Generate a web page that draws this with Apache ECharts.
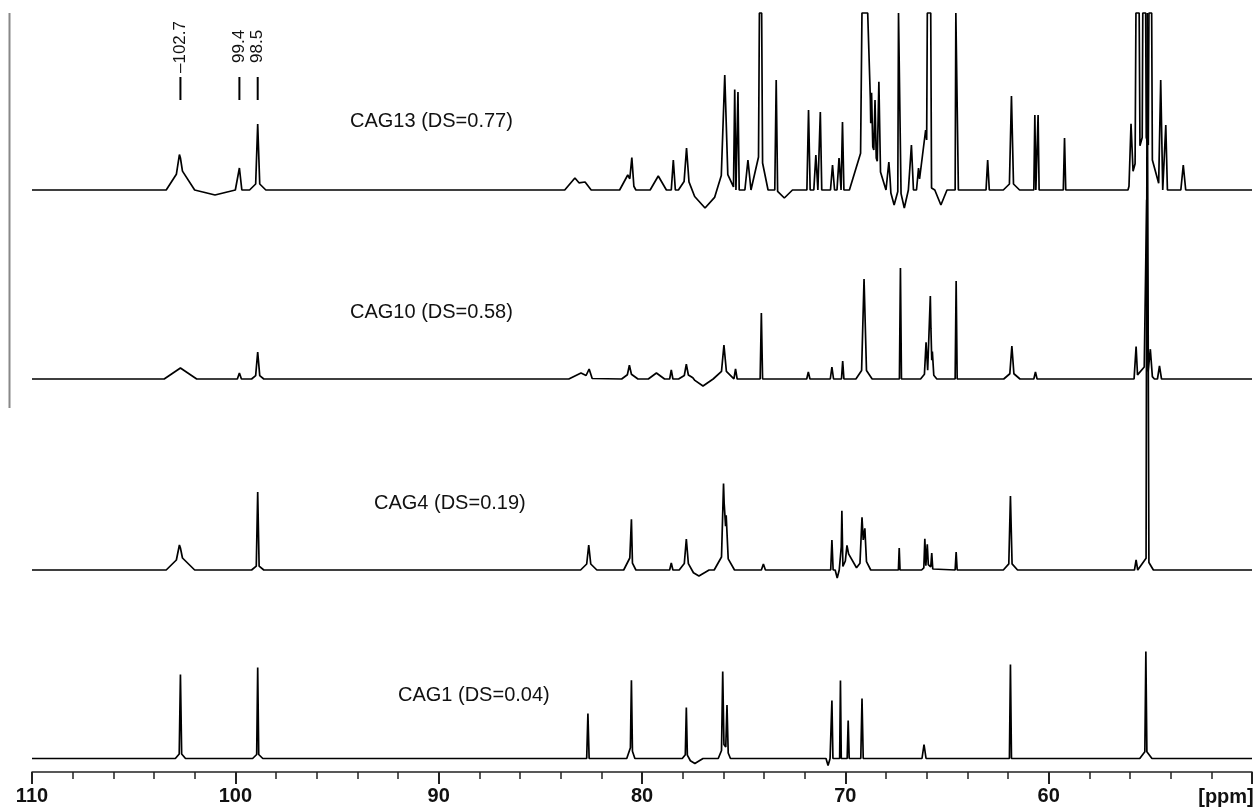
<!DOCTYPE html>
<html>
<head>
<meta charset="utf-8">
<script src="https://cdn.jsdelivr.net/npm/echarts@6/dist/echarts.min.js"></script>
<style>
  html, body { margin: 0; padding: 0; background: #fff; }
  #chart { width: 1255px; height: 807px; }
</style>
</head>
<body>
<div id="chart"></div>
<script>
// ---------- DATA ----------
// each peak: [ppm, height above its own baseline, half-width at base (ppm)]
const traceNames = ['CAG13 (DS=0.77)', 'CAG10 (DS=0.58)', 'CAG4 (DS=0.19)', 'CAG1 (DS=0.04)'];

const peaksCAG13 = [
  [102.7, 22, 0.7], [102.75, 15, 0.15], [101.0, -5, 1.0],
  [99.8, 22, 0.12], [98.9, 58, 0.1], [98.9, 8, 0.4],
  [83.3, 12, 0.5], [82.8, 8, 0.3],
  [80.7, 15, 0.4], [80.5, 25, 0.1],
  [79.2, 14, 0.4], [78.46, 30, 0.1],
  [77.81, 30, 0.12], [77.81, 12, 0.4], [76.9, -18, 0.8],
  [75.93, 93, 0.15], [75.93, 22, 0.5],
  [75.44, 100, 0.06], [75.28, 98, 0.06],
  [74.79, 30, 0.15], [74.17, 320, 0.1], [74.2, 40, 0.4],
  [73.40, 110, 0.07], [73.0, -8, 0.4],
  [71.81, 80, 0.08], [71.45, 35, 0.1], [71.23, 78, 0.07],
  [70.63, 25, 0.1], [70.31, 32, 0.1], [70.14, 68, 0.07],
  [69.0, 500, 0.25], [68.9, 60, 0.9],
  [68.71, 50, 0.06], [68.54, 54, 0.06], [68.35, 85, 0.08],
  [67.86, 28, 0.1], [67.6, -15, 0.2], [67.34, 400, 0.08], [67.1, -18, 0.2],
  [66.75, 45, 0.1], [66.4, 22, 0.1],
  [65.88, 500, 0.12], [66.05, 60, 0.3], [65.3, -15, 0.3],
  [64.52, 400, 0.08], [63.0, 30, 0.08],
  [61.83, 86, 0.1], [61.83, 8, 0.4],
  [60.68, 75, 0.05], [60.52, 75, 0.05], [59.22, 52, 0.06],
  [55.95, 55, 0.1], [55.63, 420, 0.12], [55.3, 420, 0.1], [55.0, 420, 0.1], [55.3, 60, 0.8],
  [54.49, 110, 0.1], [54.24, 65, 0.08], [53.38, 25, 0.12]
];

const peaksCAG10 = [
  [102.7, 11, 0.8], [99.8, 6, 0.1], [98.9, 22, 0.1], [98.9, 5, 0.3],
  [83.0, 6, 0.6], [82.6, 8, 0.15],
  [80.62, 8, 0.1], [80.6, 6, 0.4], [79.29, 6, 0.4], [78.56, 9, 0.08],
  [77.82, 10, 0.1], [77.8, 5, 0.4], [77.0, -7, 0.5],
  [75.97, 24, 0.12], [75.97, 10, 0.5], [75.4, 10, 0.08], [74.13, 66, 0.06],
  [71.82, 7, 0.08], [70.66, 12, 0.08], [70.13, 18, 0.06],
  [69.08, 88, 0.12], [69.08, 12, 0.4], [67.29, 111, 0.05],
  [66.03, 30, 0.08], [65.82, 75, 0.07], [65.72, 22, 0.07], [65.9, 10, 0.4],
  [64.55, 98, 0.05], [61.81, 26, 0.1], [61.81, 7, 0.4], [60.65, 7, 0.08],
  [55.7, 30, 0.07], [55.3, 12, 0.5], [55.18, 170, 0.07], [55.0, 25, 0.1], [54.55, 13, 0.1]
];

const peaksCAG4 = [
  [102.7, 14, 0.7], [102.75, 12, 0.15], [98.9, 73, 0.07], [98.9, 5, 0.3],
  [82.62, 17, 0.1], [82.62, 8, 0.4],
  [80.52, 42, 0.05], [80.6, 12, 0.3], [78.56, 7, 0.08],
  [77.82, 22, 0.1], [77.82, 9, 0.35], [77.2, -6, 0.5],
  [75.99, 70, 0.1], [75.86, 40, 0.1], [75.95, 18, 0.5], [74.03, 6, 0.1],
  [70.66, 30, 0.06], [70.4, -8, 0.1], [70.17, 58, 0.05],
  [69.8, 18, 0.4], [69.92, 12, 0.08],
  [69.18, 42, 0.1], [69.04, 30, 0.08], [69.1, 14, 0.35],
  [67.35, 22, 0.04],
  [66.09, 28, 0.05], [65.97, 20, 0.05], [65.75, 15, 0.05], [65.95, 6, 0.3],
  [64.55, 18, 0.05], [61.88, 66, 0.08], [61.88, 8, 0.35],
  [55.7, 10, 0.08], [55.14, 700, 0.07], [55.2, 12, 0.35]
];

const peaksCAG1 = [
  [102.7, 78, 0.06], [102.7, 6, 0.25], [98.9, 86, 0.05], [98.9, 5, 0.25],
  [82.66, 45, 0.06], [80.52, 68, 0.05], [80.55, 12, 0.2],
  [77.82, 46, 0.05], [77.82, 5, 0.2], [77.4, -5, 0.4],
  [76.03, 76, 0.06], [75.82, 45, 0.06], [75.95, 15, 0.3],
  [70.85, -7, 0.1], [70.66, 58, 0.05], [70.24, 78, 0.04], [69.86, 38, 0.05],
  [69.18, 60, 0.06], [66.13, 14, 0.1],
  [61.88, 94, 0.05], [55.22, 99, 0.05], [55.22, 8, 0.3]
];

const annotPpm = [102.7, 99.8, 98.9];
const annotLabels = ['\u2013102.7', '99.4', '98.5'];
const tickLabels = [110, 100, 90, 80, 70, 60];
const unitLabel = '[ppm]';

// ---------- LAYOUT / STYLE ----------
const X_MIN = 50, X_MAX = 110;
const Y_MAX = 760, Y_CAP = 759;
const baselines = [582, 393, 202, 13.5];        // vertical stacking offsets
const labelPos = [[350, 121], [350, 312], [374, 503], [398, 695]];

function buildTrace(peaks, offset) {
  const xs = new Set([X_MAX, X_MIN]);
  peaks.forEach(([p, h, w]) => { xs.add(+(p + w).toFixed(4)); xs.add(p); xs.add(+(p - w).toFixed(4)); });
  const sorted = [...xs].filter(x => x <= X_MAX && x >= X_MIN).sort((a, b) => b - a);
  const pts = sorted.map(x => {
    let s = 0;
    peaks.forEach(([p, h, w]) => { const t = 1 - Math.abs(x - p) / w; if (t > 0) s += h * t; });
    return [x, offset + s];
  });
  // flatten the tops of peaks that run off the plot (as the recorder did)
  const out = [];
  for (let i = 0; i < pts.length; i++) {
    if (i > 0) {
      const a = pts[i - 1], b = pts[i];
      if ((a[1] - Y_CAP) * (b[1] - Y_CAP) < 0) {
        const f = (Y_CAP - a[1]) / (b[1] - a[1]);
        out.push([a[0] + f * (b[0] - a[0]), Y_CAP]);
      }
    }
    out.push([pts[i][0], Math.min(pts[i][1], Y_CAP)]);
  }
  return out;
}

const allPeaks = [peaksCAG13, peaksCAG10, peaksCAG4, peaksCAG1];
const chart = echarts.init(document.getElementById('chart'), null, { renderer: 'canvas' });

const series = allPeaks.map((pk, i) => ({
  type: 'line',
  name: traceNames[i],
  data: buildTrace(pk, baselines[i]),
  symbol: 'none',
  clip: true,
  lineStyle: { color: '#000', width: 1.7 },
  animation: false
}));

const FONT = '"Liberation Sans", Arial, sans-serif';

chart.setOption({
  animation: false,
  backgroundColor: '#fff',
  grid: { left: 32, top: 12, width: 1226.4, height: 760 },
  xAxis: {
    type: 'value', inverse: true, min: X_MIN, max: X_MAX, interval: 10,
    axisLine: { lineStyle: { color: '#222', width: 1.5 } },
    axisTick: { length: 12, lineStyle: { color: '#222', width: 2 } },
    minorTick: { show: true, splitNumber: 5, length: 7, lineStyle: { color: '#222', width: 1.5 } },
    splitLine: { show: false },
    axisLabel: {
      fontSize: 20, fontWeight: 'bold', color: '#111', fontFamily: FONT, margin: 14,
      formatter: v => (tickLabels.indexOf(v) >= 0 ? String(v) : '')
    }
  },
  yAxis: { type: 'value', min: 0, max: Y_MAX, show: false },
  series: series
});

const graphics = [];
traceNames.forEach((t, i) => {
  graphics.push({
    type: 'text', x: labelPos[i][0], y: labelPos[i][1],
    style: { text: t, fontSize: 20, fontFamily: FONT, fill: '#111', align: 'left', verticalAlign: 'middle' }
  });
});
annotPpm.forEach((p, i) => {
  const x = chart.convertToPixel({ xAxisIndex: 0 }, p);
  graphics.push({ type: 'line', shape: { x1: x, y1: 77, x2: x, y2: 100 }, style: { stroke: '#000', lineWidth: 2 } });
  graphics.push({
    type: 'text', x: x, y: i === 0 ? 73 : 63, rotation: Math.PI / 2,
    style: { text: annotLabels[i], fontSize: 17, fontFamily: FONT, fill: '#111', align: 'left', verticalAlign: 'middle' }
  });
});
graphics.push({ type: 'text', x: 1226, y: 797, style: { text: unitLabel, fontSize: 20, fontWeight: 'bold', fontFamily: FONT, fill: '#111', align: 'center', verticalAlign: 'middle' } });
graphics.push({ type: 'line', shape: { x1: 9.5, y1: 13, x2: 9.5, y2: 408 }, style: { stroke: '#888', lineWidth: 2 } });

chart.setOption({ graphic: graphics });
</script>
</body>
</html>
